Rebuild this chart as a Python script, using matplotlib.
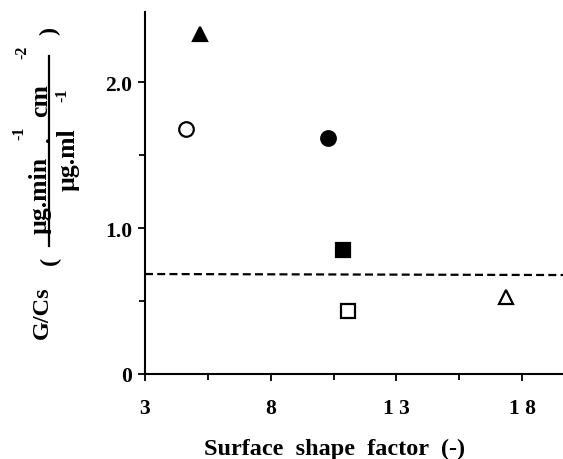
import matplotlib
matplotlib.use("Agg")
import matplotlib.pyplot as plt
from matplotlib.lines import Line2D

plt.rcParams['font.family'] = ['Liberation Serif', 'DejaVu Serif']

# data
ssf = [5.17, 4.65, 10.28, 10.88, 11.06, 17.35]
gcs = [2.33, 1.68, 1.62, 0.85, 0.43, 0.527]
markers = ['^', 'o', 'o', 's', 's', '^']
filled = [True, False, True, True, False, False]
ref_x = [3, 19.63]
ref_y = [0.685, 0.678]
xticks = [3, 8, 13, 18]
xtick_labels = ['3', '8', '1 3', '1 8']
yticks = [0, 1.0, 2.0]
ytick_labels = ['0', '1.0', '2.0']

W, H = 563, 460
fig = plt.figure(figsize=(W / 100, H / 100), dpi=100)
ax = fig.add_axes([145 / W, 1 - 375 / H, (563 - 145) / W, (375 - 13) / H])

for x, y, m, f in zip(ssf, gcs, markers, filled):
    ax.plot([x], [y], marker=m, ms=10.5 if m != 's' else 9.5,
            mfc='black' if f else 'white', mec='black', mew=1.6,
            linestyle='none', clip_on=False)

ax.plot(ref_x, ref_y, '--', color='black', lw=1.6, dashes=(3.6, 1.9))

ax.set_xlim(3, 19.63)
ax.set_ylim(0, 2.48)
ax.set_xticks(xticks)
ax.set_xticklabels(xtick_labels)
ax.set_xticks([5.5, 10.5, 15.5], minor=True)
ax.set_yticks(yticks)
ax.set_yticklabels(ytick_labels)
ax.set_yticks([0.5, 1.5], minor=True)
for s in ['top', 'right']:
    ax.spines[s].set_visible(False)
for s in ['left', 'bottom']:
    ax.spines[s].set_linewidth(1.5)
ax.tick_params(which='major', direction='out', length=5, width=1.3)
ax.tick_params(which='minor', direction='out', length=4, width=1.3)
ax.tick_params(axis='x', which='major', labelsize=15.5, pad=12)
ax.tick_params(axis='y', which='major', labelsize=15.5, pad=4)
for lab in ax.get_xticklabels() + ax.get_yticklabels():
    lab.set_fontweight('bold')

fig.text(335 / W, 1 - 455 / H, 'Surface  shape  factor  (-)', fontsize=17.5,
         fontweight='bold', ha='center', va='baseline')


def t(px, py, s, size, **kw):
    fig.text(px / W, 1 - py / H, s, fontsize=size, fontweight='bold',
             rotation=90, ha='center', va='center', **kw)


t(42, 313, 'G/Cs', 17.5)
t(50, 261, '(', 17.5)
t(40, 195, 'µg.min', 18.5)
t(19, 133, '-1', 11.5)
t(44, 139, '.', 16)
t(41, 101, 'cm', 18.5)
t(22, 52, '-2', 11.5)
t(68, 160, 'µg.ml', 18.5)
t(62, 95, '-1', 11.5)
t(50, 31, ')', 17.5)
fig.add_artist(Line2D([48.5 / W, 48.5 / W], [1 - 247 / H, 1 - 57 / H],
                      color='black', lw=1.6, transform=fig.transFigure))

fig.savefig('out.png', dpi=100)
